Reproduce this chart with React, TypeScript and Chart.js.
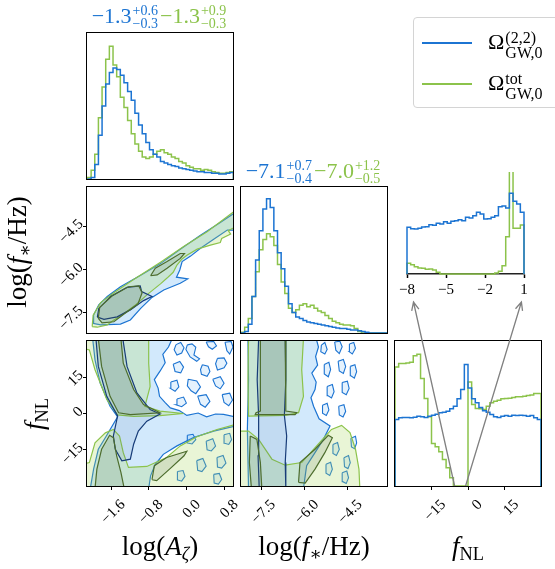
import React, { useEffect, useRef } from "react";
import { Chart, registerables } from "chart.js";

Chart.register(...registerables);

type Pair = [number, number];

// ---------------- axis ranges & ticks ----------------
const A_RANGE: Pair = [-2.11, 0.99];
const FS_RANGE: Pair = [-8.2, -3.15];
const FNL_RANGE: Pair = [-30, 30];
const INSET_RANGE: Pair = [-8, 1];
const HIST_RANGE: Pair = [0, 1];
const FNL_HIST_RANGE: Pair = [0, 436];
const INSET_HIST_RANGE: Pair = [0, 306];

const A_TICKS = [-1.6, -0.8, 0.0, 0.8];
const FS_TICKS = [-7.5, -6.0, -4.5];
const FNL_TICKS = [-15, 0, 15];
const INSET_TICKS = [-8, -5, -2, 1];

// ---------------- 1D histograms ----------------
const A_BIN_START = -2.1;
const A_BIN_WIDTH = 0.0775;
const A_HIST_BLUE = [0, 0.01, 0.1, 0.3, 0.5, 0.65, 0.73, 0.76, 0.75, 0.71, 0.66, 0.6, 0.54, 0.45, 0.37, 0.31, 0.25, 0.2, 0.17, 0.15, 0.12, 0.11, 0.1, 0.09, 0.085, 0.075, 0.07, 0.065, 0.06, 0.055, 0.05, 0.05, 0.045, 0.045, 0.04, 0.04, 0.035, 0.035, 0.04, 0.045];
const A_HIST_GREEN = [0.01, 0.06, 0.17, 0.42, 0.63, 0.82, 0.91, 0.78, 0.7, 0.56, 0.49, 0.4, 0.31, 0.24, 0.19, 0.15, 0.14, 0.15, 0.17, 0.19, 0.2, 0.18, 0.17, 0.15, 0.14, 0.12, 0.11, 0.09, 0.08, 0.07, 0.07, 0.06, 0.065, 0.06, 0.05, 0.045, 0.04, 0.04, 0.045, 0.05];

const FS_BIN_START = -8.2;
const FS_BIN_WIDTH = 0.12625;
const FS_HIST_BLUE = [0, 0.01, 0.06, 0.25, 0.5, 0.7, 0.85, 0.92, 0.86, 0.7, 0.55, 0.44, 0.32, 0.2, 0.14, 0.11, 0.1, 0.085, 0.075, 0.07, 0.065, 0.06, 0.055, 0.05, 0.045, 0.04, 0.035, 0.03, 0.03, 0.025, 0.02, 0.02, 0.015, 0.01, 0.005, 0, 0, 0, 0, 0];
const FS_HIST_GREEN = [0.005, 0.04, 0.1, 0.25, 0.42, 0.57, 0.64, 0.68, 0.66, 0.6, 0.47, 0.35, 0.27, 0.17, 0.14, 0.16, 0.19, 0.2, 0.18, 0.19, 0.17, 0.15, 0.14, 0.12, 0.1, 0.08, 0.07, 0.06, 0.055, 0.055, 0.05, 0.03, 0.01, 0, 0, 0, 0, 0, 0, 0];

const FNL_BIN_START = -30;
const FNL_BIN_WIDTH = 1.5;
const FNL_HIST_BLUE = [200, 205, 206, 206, 205, 207, 210, 208, 206, 210, 213, 216, 220, 222, 225, 232, 240, 262, 290, 365, 295, 262, 250, 236, 226, 222, 215, 208, 206, 210, 212, 210, 213, 212, 213, 212, 210, 212, 205, 200];
const FNL_HIST_GREEN = [358, 368, 368, 370, 372, 392, 396, 323, 263, 208, 128, 118, 103, 80, 55, 25, 0, 0, 0, 0, 313, 245, 233, 232, 230, 240, 250, 255, 258, 262, 263, 264, 266, 268, 268, 270, 272, 274, 278, 278];

const INSET_BIN_START = -8;
const INSET_BIN_WIDTH = 0.28125;
const INSET_HIST_BLUE = [140, 136, 135, 137, 141, 142, 148, 146, 152, 150, 157, 152, 158, 160, 163, 160, 170, 168, 175, 185, 180, 165, 166, 170, 175, 202, 204, 198, 242, 218, 210, 185];
const INSET_HIST_GREEN = [32, 28, 22, 18, 17, 14, 15, 12, 5, 0, 0, 0, 0, 0, 0, 0, 0, 0, 0, 0, 0, 0, 0, 0, 3, 8, 25, 112, 420, 137, 137, 147];

// arrows: from fNL values (bottom of fNL histogram) to inset x values
const ARROW_FNL = [-5.5, -1.0];
const ARROW_INSET = [-7.5, 0.8];

// ---------------- summaries ----------------
const A_SUMMARY_BLUE = [-1.3, 0.6, 0.3];
const A_SUMMARY_GREEN = [-1.3, 0.9, 0.3];
const FS_SUMMARY_BLUE = [-7.1, 0.7, 0.4];
const FS_SUMMARY_GREEN = [-7.0, 1.2, 0.5];

const LEGEND_SUP = ["(2,2)", "tot"];
const LEGEND_SUB = ["GW,0", "GW,0"];

// ---------------- 2D contours: log A vs log f* ----------------
const AFS_BLUE_OUTER: Pair[] = [[-1.98, -7.87], [-1.97, -7.58], [-1.86, -7.23], [-1.68, -6.94], [-1.4, -6.6], [-0.97, -6.2], [-0.55, -5.8], [-0.13, -5.3], [0.3, -4.82], [0.72, -4.38], [1.05, -4.02], [1.05, -4.64], [0.87, -4.64], [0.58, -4.96], [0.3, -5.27], [0.09, -5.54], [-0.09, -5.73], [-0.14, -6.02], [-0.21, -6.27], [0.03, -6.33], [-0.13, -6.48], [-0.48, -6.71], [-0.73, -6.97], [-0.97, -7.35], [-1.19, -7.75], [-1.4, -7.89], [-1.82, -7.92]];
const AFS_GREEN_OUTER: Pair[] = [[-2.0, -7.98], [-1.98, -7.58], [-1.82, -7.15], [-1.54, -6.81], [-1.12, -6.35], [-0.55, -5.75], [-0.05, -5.2], [0.44, -4.7], [1.05, -3.95], [1.05, -4.52], [0.89, -4.66], [0.94, -4.78], [0.75, -4.93], [0.72, -5.07], [0.51, -5.16], [0.23, -5.3], [0.02, -5.5], [-0.1, -5.65], [-0.2, -5.85], [-0.28, -6.1], [-0.41, -6.3], [-0.55, -6.5], [-0.8, -6.83], [-1.08, -7.23], [-1.37, -7.58], [-1.54, -7.75], [-1.68, -7.92], [-1.89, -8.0]];
const AFS_BLUE_INNER: Pair[] = [[-1.89, -7.65], [-1.86, -7.35], [-1.61, -6.94], [-1.26, -6.62], [-0.98, -6.57], [-0.95, -6.77], [-0.73, -6.94], [-0.91, -7.08], [-1.19, -7.4], [-1.47, -7.64], [-1.75, -7.73]];
const AFS_GREEN_INNER: Pair[] = [[-1.87, -7.69], [-1.84, -7.31], [-1.58, -6.92], [-1.23, -6.6], [-1.01, -6.57], [-0.94, -6.81], [-1.03, -7.2], [-1.33, -7.55], [-1.54, -7.81], [-1.79, -7.85]];
const AFS_GREEN_ISLAND: Pair[] = [[-0.76, -6.22], [-0.66, -5.96], [-0.41, -5.73], [-0.13, -5.45], [-0.04, -5.45], [-0.13, -5.62], [-0.41, -5.96], [-0.62, -6.19]];

// ---------------- 2D contours: log A vs fNL ----------------
const AN_BLUE_OUTER: Pair[] = [[-1.99, 31], [-0.3, 31], [-0.38, 27.5], [-0.5, 24.5], [-0.45, 21.0], [-0.56, 17.5], [-0.68, 14.0], [-0.6, 10.5], [-0.57, 7.1], [-0.45, 4.5], [-0.34, 2.3], [-0.15, 1.2], [0.01, -0.8], [0.25, 0.2], [0.43, -1.4], [0.62, -0.2], [0.79, -0.4], [1.05, -1.4], [1.05, -5.2], [0.58, -7.3], [0.15, -10.0], [-0.2, -13.4], [-0.49, -16.9], [-0.66, -21.0], [-0.76, -25.8], [-0.8, -31], [-2.04, -31], [-1.97, -23.0], [-1.87, -14.8], [-1.69, -9.0], [-1.46, -1.4], [-1.62, 3.0], [-1.83, 12.6], [-1.94, 22.2]];
const AN_BLUE_INNER: Pair[] = [[-1.92, 31], [-1.35, 31], [-1.26, 19.5], [-1.05, 8.5], [-0.77, 1.6], [-0.56, -0.2], [-0.84, -3.2], [-1.02, -7.3], [-1.12, -12.7], [-1.19, -18.9], [-1.37, -19.6], [-1.51, -14.8], [-1.55, -9.3], [-1.46, -1.0], [-1.69, 7.1], [-1.87, 19.5]];
const AN_GREEN_OUTER_UP: Pair[] = [[-2.2, 31], [-0.8, 31], [-0.8, 20.8], [-0.77, 11.2], [-0.88, 3.0], [-0.56, 1.0], [-0.06, 0.0], [-0.56, -0.9], [-1.12, -1.2], [-1.46, -0.6], [-1.69, 5.8], [-1.94, 18.1], [-2.06, 26.3], [-2.2, 27]];
const AN_GREEN_OUTER_LOW: Pair[] = [[-2.2, -31], [-2.2, -21], [-2.06, -20.3], [-1.94, -12.1], [-1.72, -8.0], [-1.55, -6.6], [-1.42, -9.3], [-1.34, -16.2], [-1.23, -22.3], [-0.84, -21.9], [-0.42, -18.2], [-0.13, -13.4], [0.22, -9.6], [0.65, -6.6], [1.05, -4.5], [1.05, -31]];
const AN_GREEN_INNER_UP: Pair[] = [[-1.87, 31], [-1.39, 31], [-1.34, 20.8], [-1.12, 9.9], [-0.91, 3.7], [-0.56, 0.3], [-1.19, -0.5], [-1.44, 0.3], [-1.62, 7.1], [-1.8, 19.5]];
const AN_GREEN_INNER_LOW: Pair[] = [[-1.94, -31], [-1.9, -23.0], [-1.8, -14.8], [-1.63, -9.0], [-1.55, -10.0], [-1.48, -17.5], [-1.39, -24.4], [-1.32, -31]];
const AN_GREEN_INNER_ISLAND: Pair[] = [[-0.73, -27.4], [-0.68, -21.6], [-0.42, -18.2], [0.01, -15.6], [-0.05, -17.5], [-0.34, -22.7], [-0.63, -27.8]];
const AN_BLUE_BLOBS: Pair[][] = [
  [[-0.22, 28.5], [-0.12, 29.4], [-0.05, 27.2], [-0.1, 25.0], [-0.2, 24.2], [-0.26, 26.4]],
  [[0.02, 28.4], [0.12, 28.8], [0.2, 27.4], [0.16, 24.2], [0.28, 22.6], [0.22, 21.6], [0.08, 23.4], [-0.01, 26.5]],
  [[0.42, 29.6], [0.58, 29.8], [0.64, 28.0], [0.55, 26.6], [0.47, 27.6]],
  [[0.82, 29.5], [0.95, 29.8], [0.99, 27.5], [0.92, 24.6], [0.86, 26.0]],
  [[-0.28, 20.4], [-0.14, 21.5], [-0.06, 19.2], [-0.12, 16.8], [-0.24, 17.4]],
  [[0.34, 20.2], [0.46, 19.6], [0.5, 17.4], [0.44, 15.4], [0.32, 16.2], [0.3, 18.2]],
  [[0.66, 22.8], [0.8, 23.0], [0.86, 20.8], [0.8, 18.9], [0.66, 18.0], [0.62, 20.6]],
  [[-0.33, 13.0], [-0.2, 13.8], [-0.16, 11.0], [-0.24, 9.2], [-0.34, 10.4]],
  [[0.04, 14.2], [0.22, 13.5], [0.3, 11.0], [0.2, 8.2], [0.1, 9.4], [0.02, 11.4]],
  [[0.56, 14.2], [0.72, 15.2], [0.8, 12.5], [0.72, 10.2], [0.62, 11.4]],
  [[-0.2, 6.0], [-0.06, 6.8], [0.0, 4.3], [-0.1, 2.8], [-0.22, 3.6]],
  [[0.24, 7.2], [0.42, 7.8], [0.5, 5.0], [0.4, 2.6], [0.3, 3.8]],
  [[0.76, 7.8], [0.92, 8.4], [0.98, 5.6], [0.9, 3.2], [0.8, 4.6]],
  [[0.02, -9.0], [0.14, -8.6], [0.2, -10.8], [0.12, -12.6], [0.03, -12.2]],
  [[0.42, -11.5], [0.56, -10.4], [0.62, -13.5], [0.53, -15.5], [0.44, -15.0]],
  [[0.8, -8.8], [0.92, -8.2], [0.96, -10.8], [0.9, -12.8], [0.81, -12.3]],
  [[0.22, -19.5], [0.35, -18.6], [0.42, -21.8], [0.33, -24.0], [0.24, -23.5]],
  [[0.65, -18.2], [0.78, -17.4], [0.84, -20.5], [0.75, -22.6], [0.66, -22.2]],
  [[-0.19, -24.0], [-0.07, -23.6], [-0.03, -26.0], [-0.1, -28.0], [-0.18, -27.5]],
  [[0.58, -25.2], [0.7, -24.8], [0.75, -27.3], [0.68, -29.2], [0.59, -28.8]],
];

// ---------------- 2D contours: log f* vs fNL ----------------
const FN_BLUE_OUTER: Pair[] = [[-7.96, 31], [-5.6, 31], [-5.52, 27.5], [-5.62, 23.6], [-5.55, 20.0], [-5.75, 16.7], [-5.6, 13.0], [-5.64, 9.9], [-5.78, 6.5], [-5.69, 3.0], [-5.5, -2.2], [-5.12, -5.2], [-5.35, -10.7], [-5.64, -16.2], [-5.93, -21.6], [-6.04, -31], [-7.94, -31], [-7.98, -6.6], [-7.94, 14.0]];
const FN_BLUE_INNER: Pair[] = [[-7.59, 31], [-6.67, 31], [-6.65, 14.0], [-6.7, -0.8], [-6.62, -9.3], [-6.67, -20.3], [-6.65, -31], [-7.57, -31], [-7.61, -17.5], [-7.59, -1.1], [-7.64, 14.0]];
const FN_GREEN_OUTER_UP: Pair[] = [[-7.94, 31], [-6.04, 31], [-6.1, 18.1], [-6.04, 7.1], [-6.21, 0.3], [-6.67, -0.8], [-7.94, -1.1], [-7.96, 14.0]];
const FN_GREEN_OUTER_LOW: Pair[] = [[-8.3, -7.3], [-7.94, -7.3], [-7.59, -10.7], [-7.13, -18.9], [-6.67, -21.4], [-6.1, -20.3], [-5.53, -12.7], [-5.07, -6.6], [-4.72, -4.9], [-4.43, -7.9], [-4.24, -14.8], [-4.12, -23.0], [-4.09, -31], [-8.3, -31]];
const FN_GREEN_INNER_UP: Pair[] = [[-7.53, 31], [-6.67, 31], [-6.65, 1.0], [-6.27, 0.3], [-6.33, -0.5], [-7.71, -0.5], [-7.68, 0.3], [-7.53, 1.0]];
const FN_GREEN_INNER_LOW: Pair[] = [[-7.88, -9.3], [-7.65, -10.7], [-7.53, -20.3], [-7.48, -31], [-7.84, -31], [-7.91, -20.3]];
const FN_GREEN_INNER_ISLAND: Pair[] = [[-6.21, -28.5], [-6.16, -20.3], [-5.64, -14.8], [-5.18, -9.0], [-5.04, -10.0], [-5.3, -16.2], [-5.64, -23.0], [-5.98, -28.8]];
const FN_BLUE_BLOBS: Pair[][] = [
  [[-5.42, 28.3], [-5.3, 29.4], [-5.22, 26.5], [-5.3, 24.6], [-5.44, 25.6]],
  [[-4.96, 29.6], [-4.78, 29.9], [-4.7, 27.6], [-4.8, 24.8], [-4.92, 26.2]],
  [[-4.45, 28.8], [-4.3, 29.4], [-4.24, 27.0], [-4.35, 24.6], [-4.46, 25.6]],
  [[-5.32, 20.3], [-5.16, 21.2], [-5.1, 18.2], [-5.18, 15.2], [-5.32, 16.4]],
  [[-4.84, 21.6], [-4.66, 22.4], [-4.58, 19.4], [-4.66, 16.6], [-4.8, 17.6]],
  [[-4.42, 19.5], [-4.26, 20.2], [-4.2, 17.3], [-4.28, 14.6], [-4.4, 15.6]],
  [[-5.22, 11.2], [-5.04, 12.0], [-4.98, 9.0], [-5.07, 6.4], [-5.2, 7.4]],
  [[-4.7, 12.8], [-4.52, 13.4], [-4.46, 10.4], [-4.56, 7.8], [-4.7, 8.7]],
  [[-5.38, 3.4], [-5.22, 4.2], [-5.16, 1.5], [-5.25, -0.8], [-5.38, 0.1]],
  [[-4.82, 3.0], [-4.64, 3.6], [-4.58, 0.9], [-4.67, -1.4], [-4.8, -0.6]],
  [[-5.02, -12.8], [-4.86, -12.0], [-4.8, -14.9], [-4.9, -17.4], [-5.02, -16.5]],
  [[-4.64, -18.3], [-4.48, -17.4], [-4.42, -20.4], [-4.5, -22.8], [-4.62, -22.0]],
  [[-5.26, -21.0], [-5.1, -20.2], [-5.04, -23.1], [-5.13, -25.6], [-5.26, -24.7]],
  [[-4.7, -24.5], [-4.54, -23.8], [-4.48, -26.6], [-4.56, -29.0], [-4.68, -28.2]],
  [[-4.4, -10.2], [-4.24, -9.4], [-4.2, -12.2], [-4.27, -14.6], [-4.38, -13.8]],
];

// ---------------- styles ----------------
const SERIF = "'Liberation Serif', 'DejaVu Serif', serif";
const BLUE = "#1c74d2";
const GREEN = "#8cc34b";
const BLUE_DARK = "#173c78";
const GREEN_DARK = "#4d6d2e";
const BLUE_FILL = "rgba(95,175,245,0.28)";
const BLUE_BLOB_FILL = "rgba(95,175,245,0.16)";
const GREEN_FILL = "rgba(170,218,95,0.26)";
const BLUE_FILL_IN = "rgba(50,90,150,0.1)";
const GREEN_FILL_IN = "rgba(80,105,80,0.15)";

const PAD_L = 60;
const PAD_B = 60;
const PAD_T = 6;
const PAD_R = 8;

const PANEL = {
  hA: { l: 87, t: 33, w: 146, h: 146 },
  afs: { l: 87, t: 187, w: 146, h: 146 },
  hF: { l: 241, t: 187, w: 146, h: 146 },
  an: { l: 87, t: 341, w: 146, h: 145 },
  fn: { l: 241, t: 341, w: 146, h: 145 },
  hN: { l: 395, t: 341, w: 146, h: 145 },
  inset: { l: 407, t: 172, w: 117, h: 102 },
};
type PanelKey = keyof typeof PANEL;

function fmt(v: number, dec: number) {
  const s = Math.abs(v).toFixed(dec);
  return (v < -1e-9 ? "\u2212" : "") + s;
}

interface AxisSpec {
  range: Pair;
  ticks?: number[];
  dec?: number;
  flat?: boolean;
}

function axisOptions(s: AxisSpec, isX: boolean, border: boolean) {
  const show = !!s.ticks;
  const rot = s.flat ? 0 : 45;
  return {
    type: "linear",
    min: s.range[0],
    max: s.range[1],
    afterBuildTicks: (sc: any) => {
      sc.ticks = (s.ticks || []).map((v) => ({ value: v }));
    },
    afterFit: (sc: any) => {
      if (isX) sc.height = PAD_B;
      else sc.width = PAD_L;
      sc.paddingLeft = 0;
      sc.paddingRight = 0;
      sc.paddingTop = 0;
      sc.paddingBottom = 0;
    },
    ticks: {
      display: show,
      autoSkip: false,
      minRotation: rot,
      maxRotation: rot,
      padding: s.flat ? 3 : isX ? 6 : 2,
      labelOffset: s.flat ? 0 : isX ? 12 : -4,
      color: "#000",
      font: { family: SERIF, size: 15 },
      callback: (v: any) => fmt(Number(v), s.dec ?? 1),
    },
    grid: {
      display: show,
      drawOnChartArea: false,
      drawTicks: true,
      tickLength: 4,
      tickWidth: border ? 1.5 : 1,
      tickColor: "#000",
      color: "#000",
    },
    border: { display: border, color: "#222", width: 1.6 },
  };
}

const framePlugin = {
  id: "frame",
  afterDatasetsDraw(chart: any, _args: any, o: any) {
    if (!o || !o.show) return;
    const { ctx, chartArea: a } = chart;
    ctx.save();
    ctx.strokeStyle = "#000";
    ctx.lineWidth = 1;
    ctx.strokeRect(a.left - 0.5, a.top - 0.5, a.right - a.left + 1, a.bottom - a.top + 1);
    ctx.restore();
  },
};

function histDataset(start: number, width: number, vals: number[], color: string, clip?: any) {
  const pts = [{ x: start, y: 0 }];
  vals.forEach((v, i) => pts.push({ x: start + i * width, y: v }));
  pts.push({ x: start + vals.length * width, y: 0 });
  const d: any = { data: pts, showLine: true, stepped: true, borderColor: color, borderWidth: 1.5, pointRadius: 0, fill: false };
  if (clip) d.clip = clip;
  return d;
}

function polyDataset(pairs: Pair[], line: string, fillColor: string | null, width = 1.2) {
  const pts = pairs.map(([x, y]) => ({ x, y }));
  pts.push({ ...pts[0] });
  return {
    data: pts,
    showLine: true,
    borderColor: line,
    backgroundColor: fillColor || "rgba(0,0,0,0)",
    fill: fillColor ? "shape" : false,
    borderWidth: width,
    pointRadius: 0,
    tension: 0,
  };
}

function buildChart(canvas: HTMLCanvasElement, x: AxisSpec, y: AxisSpec, datasets: any[], frame: boolean, xBorder = false) {
  const n = datasets.length;
  return new Chart(canvas, {
    type: "scatter",
    data: { datasets: datasets.map((d, i) => ({ ...d, order: n - i })) },
    options: {
      animation: false,
      responsive: false,
      events: [],
      layout: { padding: { left: 0, top: PAD_T, right: PAD_R, bottom: 0 } },
      plugins: { legend: { display: false }, tooltip: { enabled: false }, frame: { show: frame } },
      scales: { x: axisOptions(x, true, xBorder), y: axisOptions(y, false, false) },
    },
    plugins: [framePlugin],
  } as any);
}

function drawArrow(ctx: CanvasRenderingContext2D, x0: number, y0: number, x1: number, y1: number) {
  const a = Math.atan2(y1 - y0, x1 - x0);
  const L = 9;
  ctx.beginPath();
  ctx.moveTo(x0, y0);
  ctx.lineTo(x1, y1);
  ctx.moveTo(x1 - L * Math.cos(a - 0.42), y1 - L * Math.sin(a - 0.42));
  ctx.lineTo(x1, y1);
  ctx.lineTo(x1 - L * Math.cos(a + 0.42), y1 - L * Math.sin(a + 0.42));
  ctx.stroke();
}

function Summary({ v, color }: { v: number[]; color: string }) {
  return (
    <span style={{ color }}>
      {fmt(v[0], 1)}
      <span style={{ display: "inline-flex", flexDirection: "column", verticalAlign: "8px", fontSize: 14, lineHeight: "13px", textAlign: "left", marginLeft: 1, marginRight: 2 }}>
        <span>+{v[1].toFixed(1)}</span>
        <span>{"\u2212"}{v[2].toFixed(1)}</span>
      </span>
    </span>
  );
}

const sub = (t: React.ReactNode, italic = false) => (
  <span style={{ fontSize: "0.68em", verticalAlign: "-0.28em", fontStyle: italic ? "italic" : "normal" }}>{t}</span>
);

export default function App() {
  const refs: Record<PanelKey, React.RefObject<HTMLCanvasElement | null>> = {
    hA: useRef<HTMLCanvasElement>(null),
    afs: useRef<HTMLCanvasElement>(null),
    hF: useRef<HTMLCanvasElement>(null),
    an: useRef<HTMLCanvasElement>(null),
    fn: useRef<HTMLCanvasElement>(null),
    hN: useRef<HTMLCanvasElement>(null),
    inset: useRef<HTMLCanvasElement>(null),
  };
  const overlay = useRef<HTMLCanvasElement>(null);

  useEffect(() => {
    const charts: Chart[] = [];
    const A: AxisSpec = { range: A_RANGE };
    const AT: AxisSpec = { range: A_RANGE, ticks: A_TICKS, dec: 1 };
    const F: AxisSpec = { range: FS_RANGE };
    const FT: AxisSpec = { range: FS_RANGE, ticks: FS_TICKS, dec: 1 };
    const N: AxisSpec = { range: FNL_RANGE };
    const NT: AxisSpec = { range: FNL_RANGE, ticks: FNL_TICKS, dec: 0 };

    charts.push(buildChart(refs.hA.current!, A, { range: HIST_RANGE }, [
      histDataset(A_BIN_START, A_BIN_WIDTH, A_HIST_GREEN, GREEN),
      histDataset(A_BIN_START, A_BIN_WIDTH, A_HIST_BLUE, BLUE),
    ], true));

    charts.push(buildChart(refs.afs.current!, A, FT, [
      polyDataset(AFS_BLUE_OUTER, BLUE, BLUE_FILL),
      polyDataset(AFS_GREEN_OUTER, GREEN, GREEN_FILL),
      polyDataset(AFS_BLUE_INNER, BLUE_DARK, BLUE_FILL_IN),
      polyDataset(AFS_GREEN_INNER, GREEN_DARK, GREEN_FILL_IN),
      polyDataset(AFS_GREEN_ISLAND, GREEN_DARK, GREEN_FILL_IN),
    ], true));

    charts.push(buildChart(refs.hF.current!, F, { range: HIST_RANGE }, [
      histDataset(FS_BIN_START, FS_BIN_WIDTH, FS_HIST_GREEN, GREEN),
      histDataset(FS_BIN_START, FS_BIN_WIDTH, FS_HIST_BLUE, BLUE),
    ], true));

    charts.push(buildChart(refs.an.current!, AT, NT, [
      polyDataset(AN_BLUE_OUTER, BLUE, BLUE_FILL),
      ...AN_BLUE_BLOBS.map((b) => polyDataset(b, BLUE, BLUE_BLOB_FILL, 1.1)),
      polyDataset(AN_GREEN_OUTER_UP, GREEN, GREEN_FILL),
      polyDataset(AN_GREEN_OUTER_LOW, GREEN, GREEN_FILL),
      polyDataset(AN_BLUE_INNER, BLUE_DARK, BLUE_FILL_IN),
      polyDataset(AN_GREEN_INNER_UP, GREEN_DARK, GREEN_FILL_IN),
      polyDataset(AN_GREEN_INNER_LOW, GREEN_DARK, GREEN_FILL_IN),
      polyDataset(AN_GREEN_INNER_ISLAND, GREEN_DARK, GREEN_FILL_IN),
    ], true));

    charts.push(buildChart(refs.fn.current!, FT, N, [
      polyDataset(FN_BLUE_OUTER, BLUE, BLUE_FILL),
      ...FN_BLUE_BLOBS.map((b) => polyDataset(b, BLUE, BLUE_BLOB_FILL, 1.1)),
      polyDataset(FN_GREEN_OUTER_UP, GREEN, GREEN_FILL),
      polyDataset(FN_GREEN_OUTER_LOW, GREEN, GREEN_FILL),
      polyDataset(FN_BLUE_INNER, BLUE_DARK, BLUE_FILL_IN),
      polyDataset(FN_GREEN_INNER_UP, GREEN_DARK, GREEN_FILL_IN),
      polyDataset(FN_GREEN_INNER_LOW, GREEN_DARK, GREEN_FILL_IN),
      polyDataset(FN_GREEN_INNER_ISLAND, GREEN_DARK, GREEN_FILL_IN),
    ], true));

    const hN = buildChart(refs.hN.current!, NT, { range: FNL_HIST_RANGE }, [
      histDataset(FNL_BIN_START, FNL_BIN_WIDTH, FNL_HIST_GREEN, GREEN),
      histDataset(FNL_BIN_START, FNL_BIN_WIDTH, FNL_HIST_BLUE, BLUE),
    ], true);
    charts.push(hN);

    const clip = { left: 3, right: 3, top: 0, bottom: 3 };
    const inset = buildChart(refs.inset.current!, { range: INSET_RANGE, ticks: INSET_TICKS, dec: 0, flat: true }, { range: INSET_HIST_RANGE }, [
      histDataset(INSET_BIN_START, INSET_BIN_WIDTH, INSET_HIST_GREEN, GREEN, clip),
      histDataset(INSET_BIN_START, INSET_BIN_WIDTH, INSET_HIST_BLUE, BLUE, clip),
    ], false, true);
    charts.push(inset);

    const ov = overlay.current!;
    const ctx = ov.getContext("2d")!;
    ctx.clearRect(0, 0, ov.width, ov.height);
    ctx.strokeStyle = "#808080";
    ctx.lineWidth = 1.3;
    const y0 = PANEL.hN.t - PAD_T + hN.chartArea.bottom;
    const y1 = PANEL.inset.t - PAD_T + inset.chartArea.bottom + 28;
    ARROW_FNL.forEach((v, i) => {
      const x0 = PANEL.hN.l - PAD_L + (hN.scales as any).x.getPixelForValue(v);
      const x1 = PANEL.inset.l - PAD_L + (inset.scales as any).x.getPixelForValue(ARROW_INSET[i]);
      drawArrow(ctx, x0, y0, x1, y1);
    });

    return () => {
      charts.forEach((c) => c.destroy());
    };
  }, []);

  const canvases = (Object.keys(PANEL) as PanelKey[]).map((k) => {
    const p = PANEL[k];
    return (
      <canvas
        key={k}
        ref={refs[k] as any}
        width={p.w + PAD_L + PAD_R}
        height={p.h + PAD_T + PAD_B}
        style={{ position: "absolute", left: p.l - PAD_L, top: p.t - PAD_T, width: p.w + PAD_L + PAD_R, height: p.h + PAD_T + PAD_B }}
      />
    );
  });

  const bottomLabel = (cx: number, content: React.ReactNode) => (
    <div style={{ position: "absolute", left: cx, top: 532, transform: "translateX(-50%)", fontSize: 27, lineHeight: "28px", whiteSpace: "nowrap" }}>{content}</div>
  );
  const leftLabel = (cx: number, cy: number, content: React.ReactNode) => (
    <div style={{ position: "absolute", left: cx, top: cy, transform: "translate(-50%,-50%) rotate(-90deg)", fontSize: 27, lineHeight: "28px", whiteSpace: "nowrap" }}>{content}</div>
  );

  const fsLabel = (
    <>
      log(<i>f</i>
      {sub("\u2217")}/Hz)
    </>
  );
  const fnlLabel = (
    <>
      <i>f</i>
      {sub("NL")}
    </>
  );

  return (
    <div style={{ position: "absolute", left: 0, top: 0, width: 555, height: 569, overflow: "hidden", background: "#fff", fontFamily: SERIF, color: "#000" }}>
      {canvases}
      <canvas ref={overlay} width={555} height={569} style={{ position: "absolute", left: 0, top: 0, pointerEvents: "none" }} />

      {/* titles */}
      <div style={{ position: "absolute", left: PANEL.hA.l - 40, width: PANEL.hA.w + 80, top: 3, textAlign: "center", fontSize: 22, lineHeight: "26px", whiteSpace: "nowrap" }}>
        <Summary v={A_SUMMARY_BLUE} color={BLUE} />
        <Summary v={A_SUMMARY_GREEN} color={GREEN} />
      </div>
      <div style={{ position: "absolute", left: PANEL.hF.l - 40, width: PANEL.hF.w + 80, top: 158, textAlign: "center", fontSize: 22, lineHeight: "26px", whiteSpace: "nowrap" }}>
        <Summary v={FS_SUMMARY_BLUE} color={BLUE} />
        <Summary v={FS_SUMMARY_GREEN} color={GREEN} />
      </div>

      {/* axis labels */}
      {bottomLabel(PANEL.an.l + PANEL.an.w / 2, <>log(<i>A</i>{sub("\u03b6", true)})</>)}
      {bottomLabel(PANEL.fn.l + PANEL.fn.w / 2, fsLabel)}
      {bottomLabel(PANEL.hN.l + PANEL.hN.w / 2, fnlLabel)}
      {leftLabel(21, PANEL.afs.t + PANEL.afs.h / 2 - 8, fsLabel)}
      {leftLabel(38, PANEL.an.t + PANEL.an.h / 2, fnlLabel)}

      {/* legend */}
      <div style={{ position: "absolute", left: 413, top: 17, width: 150, height: 91, border: "1px solid #d4d4d4", borderRadius: 4, background: "rgba(255,255,255,0.9)", boxSizing: "border-box" }}>
        {[BLUE, GREEN].map((c, i) => {
          const rowY = i === 0 ? 25 : 66;
          return (
            <React.Fragment key={i}>
              <div style={{ position: "absolute", left: 8, top: rowY - 1, width: 50, height: 2, background: c }} />
              <div style={{ position: "absolute", left: 74, top: rowY - 15, fontSize: 22, lineHeight: "28px", whiteSpace: "nowrap" }}>
                {"\u03a9"}
                <span style={{ display: "inline-flex", flexDirection: "column", verticalAlign: "6px", fontSize: 16, lineHeight: "15px", marginLeft: 1 }}>
                  <span>{LEGEND_SUP[i]}</span>
                  <span>{LEGEND_SUB[i]}</span>
                </span>
              </div>
            </React.Fragment>
          );
        })}
      </div>
    </div>
  );
}
